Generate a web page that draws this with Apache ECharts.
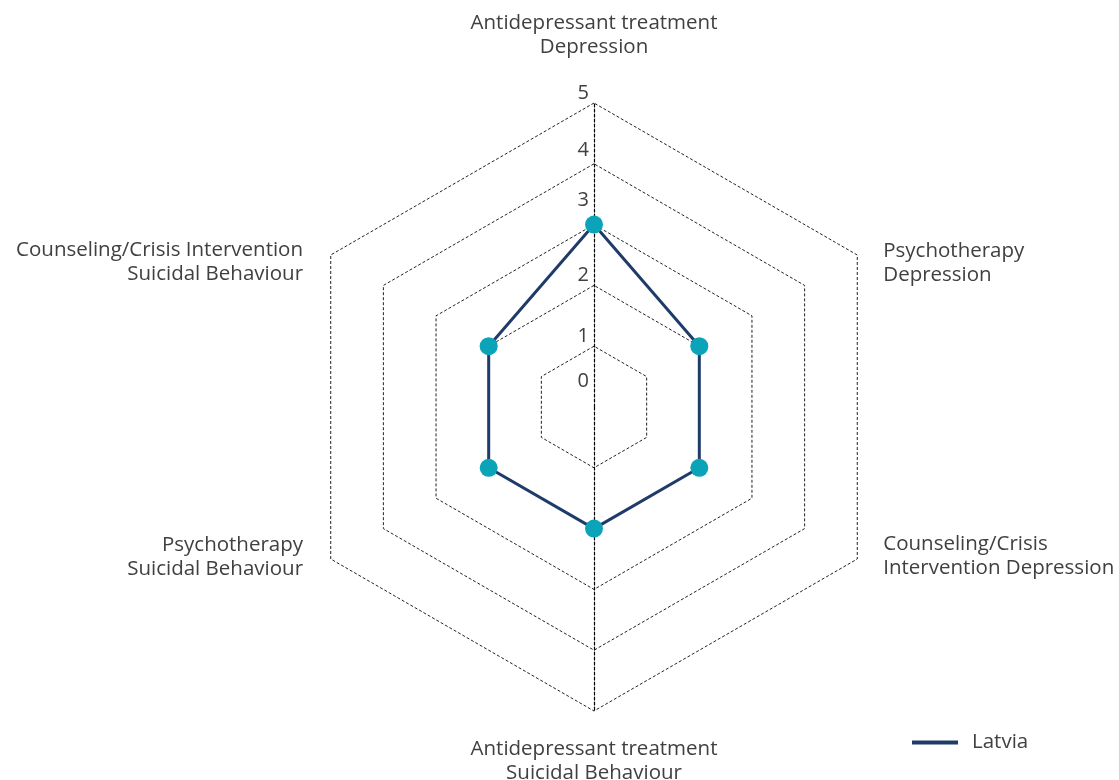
<!DOCTYPE html>
<html>
<head>
<meta charset="utf-8">
<script src="https://cdn.jsdelivr.net/npm/echarts@6/dist/echarts.min.js"></script>
<style>
  html, body { margin: 0; padding: 0; background: #fff; }
  #chart { width: 1119px; height: 780px; }
</style>
</head>
<body>
<div id="chart"></div>
<script>
// 指标（逆时针顺序，从顶部开始）
const indicatorNames = [
  'Antidepressant treatment\nDepression',
  'Counseling/Crisis Intervention\nSuicidal Behaviour',
  'Psychotherapy\nSuicidal Behaviour',
  'Antidepressant treatment\nSuicidal Behaviour',
  'Counseling/Crisis\nIntervention Depression',
  'Psychotherapy\nDepression'
]
const seriesName = 'Latvia'
const latviaValues = [3, 2, 2, 2, 2, 2]
const axisMax = 5

const textColor = '#404040'
const fontFamily = '"Open Sans", "Noto Sans", sans-serif'
const nameSize = 20.5

const chart = echarts.init(document.getElementById('chart'))

// 刻度标签的额外上移量（参考图中标签位置不太规则）
const labelLift = { 0: 16, 1: 0, 2: 0, 3: 14, 4: 4, 5: 0 }
const labelRich = {}
Object.keys(labelLift).forEach((k) => {
  labelRich['l' + k] = {
    color: textColor,
    fontSize: 20,
    fontFamily: fontFamily,
    padding: [0, 0, labelLift[k], 0]
  }
})

const dashedAxis = { show: true, lineStyle: { color: '#000', type: [3, 2], width: 1.2 } }

const indicators = indicatorNames.map((name, i) => {
  const item = { name: name, max: axisMax, min: 0 }
  if (i === 0) {
    item.nameGap = 44
    item.axisLine = dashedAxis
    item.axisLabel = { show: true }
  } else if (i === 3) {
    item.axisLine = dashedAxis
  } else if (i === 1 || i === 2) {
    item.nameGap = 32
  } else {
    item.nameGap = 30
  }
  return item
})

// 侧面标签：用空行把文字块挪到顶点附近
const formatName = (value, indicator) => {
  const lines = value.split('\n').map((s) => '{n|' + s + '}')
  const idx = indicatorNames.indexOf(value)
  if (idx === 1 || idx === 5) return '{gapTop| }\n' + lines.join('\n')
  if (idx === 2 || idx === 4) return lines.join('\n') + '\n{gapBot| }'
  return lines.join('\n')
}

const option = {
  animation: false,
  textStyle: { fontFamily: fontFamily },
  legend: {
    data: [{ name: seriesName, icon: 'rect', itemStyle: { color: '#1f3b6a' } }],
    left: 907,
    top: 727,
    itemWidth: 46,
    itemHeight: 4,
    itemGap: 10,
    textStyle: { color: textColor, fontSize: nameSize, fontFamily: fontFamily, padding: [0, 0, 0, 9] }
  },
  radar: {
    center: [594, 407],
    radius: 304,
    startAngle: 90,
    splitNumber: 5,
    shape: 'polygon',
    nameGap: 26,
    axisName: {
      color: textColor,
      fontSize: nameSize,
      lineHeight: 24,
      fontFamily: fontFamily,
      formatter: formatName,
      rich: {
        n: { color: textColor, fontSize: nameSize, lineHeight: 24, fontFamily: fontFamily },
        gapTop: { fontSize: 10, lineHeight: 47 },
        gapBot: { fontSize: 10, lineHeight: 35 }
      }
    },
    axisLine: { show: false },
    axisTick: { show: false },
    axisLabel: {
      show: false,
      color: textColor,
      fontSize: 20,
      fontFamily: fontFamily,
      margin: 5,
      verticalAlign: 'bottom',
      formatter: (v) => '{l' + v + '|' + v + '}',
      rich: labelRich
    },
    splitLine: {
      lineStyle: { color: '#222', type: [3, 2], width: 1 }
    },
    splitArea: { show: false },
    indicator: indicators
  },
  series: [
    {
      type: 'radar',
      name: seriesName,
      symbol: 'circle',
      symbolSize: 18,
      lineStyle: { color: '#1f3b6a', width: 3 },
      itemStyle: { color: '#0aa3b8' },
      data: [{ value: latviaValues, name: seriesName }]
    }
  ]
}

chart.setOption(option)
</script>
</body>
</html>
